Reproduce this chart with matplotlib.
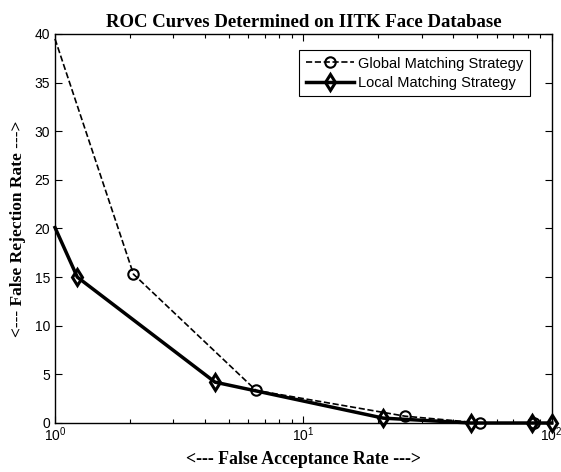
import matplotlib
matplotlib.use("Agg")
import matplotlib.pyplot as plt
from matplotlib.ticker import LogLocator, FixedLocator, NullFormatter

# Data
far_global = [1.0, 2.07, 6.45, 25.7, 51.5, 84.5]
frr_global = [39.5, 15.3, 3.35, 0.7, 0.0, 0.0]
far_local = [1.0, 1.23, 4.41, 21.0, 47.2, 83.5, 100.0]
frr_local = [20.1, 15.0, 4.2, 0.5, 0.0, 0.0, 0.0]
yticks = [0, 5, 10, 15, 20, 25, 30, 35, 40]

fig = plt.figure(figsize=(5.61, 4.72), dpi=100)
ax = fig.add_axes([55/561, 49/472, (551.7-55)/561, (423-34)/472])

ax.plot(far_global, frr_global, color='black', linestyle='--', linewidth=1.2,
        marker='o', markersize=7.5, markerfacecolor='none', markeredgewidth=1.5,
        markevery=list(range(1, len(far_global))), clip_on=False,
        label='Global Matching Strategy')
ax.plot(far_local, frr_local, color='black', linestyle='-', linewidth=2.5,
        marker='d', markersize=8, markerfacecolor='none', markeredgewidth=2.2,
        markevery=list(range(1, len(far_local))), clip_on=False,
        label='Local Matching Strategy')

ax.set_xscale('log')
ax.set_xlim(1, 100)
ax.set_ylim(0, 40)
ax.yaxis.set_major_locator(FixedLocator(yticks))
ax.xaxis.set_major_locator(LogLocator(base=10, numticks=5))
ax.xaxis.set_minor_locator(LogLocator(base=10, subs=range(2, 10), numticks=20))
ax.xaxis.set_minor_formatter(NullFormatter())

ax.tick_params(which='both', direction='in', top=True, right=True, labelsize=10)
ax.tick_params(which='major', length=5, width=0.8)
ax.tick_params(which='minor', length=3, width=0.8)
ax.tick_params(axis='x', which='major', pad=2)
for lbl in ax.get_xticklabels() + ax.get_yticklabels():
    lbl.set_fontfamily('Liberation Sans')
for sp in ax.spines.values():
    sp.set_linewidth(1.0)

ax.set_title('ROC Curves Determined on IITK Face Database', fontfamily='Liberation Serif',
             fontweight='bold', fontsize=13.5, pad=5)
ax.set_xlabel('<--- False Acceptance Rate --->', fontfamily='Liberation Serif',
              fontweight='bold', fontsize=12.8, labelpad=5)
ax.set_ylabel('<--- False Rejection Rate --->', fontfamily='Liberation Serif',
              fontweight='bold', fontsize=12.5, labelpad=6)

leg = ax.legend(loc='upper right', bbox_to_anchor=((530-55)/496.7, (423-50)/389),
                borderaxespad=0, fancybox=False,
                edgecolor='black', framealpha=1, prop={'family': 'Liberation Sans', 'size': 10.5},
                handlelength=3.3, handletextpad=0.3, borderpad=0.45, labelspacing=0.35)
leg.get_frame().set_linewidth(0.8)

fig.savefig('out.png', dpi=100)
